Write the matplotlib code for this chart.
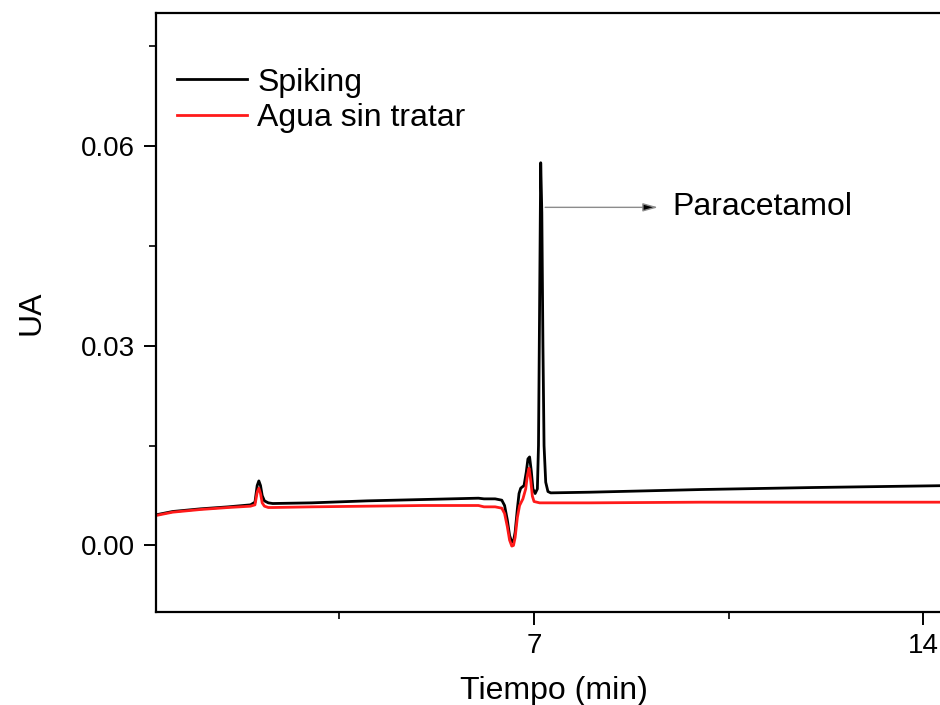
import matplotlib
matplotlib.use("Agg")
import matplotlib.pyplot as plt
from matplotlib.ticker import FixedLocator

plt.rcParams['font.family'] = ['Liberation Sans', 'DejaVu Sans']

# Spiking (black) chromatogram
t_spiking = [0.2, 0.5, 1.0, 1.5, 1.9, 1.98, 2.02, 2.05, 2.08, 2.11, 2.15, 2.22, 2.3,
             3.0, 4.0, 5.0, 6.0, 6.1, 6.3, 6.42, 6.47, 6.52, 6.56, 6.6, 6.63, 6.66,
             6.7, 6.73, 6.76, 6.82, 6.86, 6.89, 6.92, 6.95, 6.98, 7.02, 7.06, 7.08,
             7.1, 7.12, 7.14, 7.16, 7.18, 7.21, 7.25, 7.3, 8.0, 10.0, 12.0, 14.5]
ua_spiking = [0.0046, 0.0051, 0.0055, 0.0058, 0.0061, 0.0065, 0.0090, 0.0097, 0.0090,
              0.0075, 0.0067, 0.0064, 0.0063, 0.0064, 0.0067, 0.0069, 0.0071, 0.0070,
              0.0070, 0.0068, 0.0060, 0.0038, 0.0015, 0.0005, 0.0006, 0.0020, 0.0055,
              0.0078, 0.0086, 0.0090, 0.0110, 0.0130, 0.0133, 0.0112, 0.0085, 0.0078,
              0.0085, 0.0150, 0.0360, 0.0575, 0.0500, 0.0300, 0.0150, 0.0095, 0.0081,
              0.0079, 0.0080, 0.0084, 0.0087, 0.0090]

# Agua sin tratar (red) chromatogram
t_agua = [0.2, 0.5, 1.0, 1.5, 1.9, 1.98, 2.02, 2.05, 2.08, 2.11, 2.15, 2.22, 2.3,
          3.0, 4.0, 5.0, 6.0, 6.1, 6.3, 6.42, 6.47, 6.52, 6.56, 6.6, 6.63, 6.66,
          6.7, 6.74, 6.8, 6.85, 6.88, 6.91, 6.94, 6.97, 7.0, 7.1, 8.0, 10.0, 12.0, 14.5]
ua_agua = [0.0045, 0.0050, 0.0054, 0.0057, 0.0059, 0.0061, 0.0080, 0.0086, 0.0078,
           0.0064, 0.0059, 0.0057, 0.0057, 0.0058, 0.0059, 0.0060, 0.0060, 0.0058,
           0.0058, 0.0056, 0.0048, 0.0028, 0.0008, -0.0001, 0.0000, 0.0012, 0.0042,
           0.0060, 0.0070, 0.0085, 0.0105, 0.0116, 0.0098, 0.0074, 0.0066, 0.0064,
           0.0064, 0.0065, 0.0065, 0.0065]

series_labels = ["Spiking", "Agua sin tratar"]
x_major = [7, 14]
x_minor = [3.5, 10.5]
y_major = [0.00, 0.03, 0.06]
y_minor = [0.015, 0.045, 0.075]
y_labels = ["0.00", "0.03", "0.06"]

fig = plt.figure(figsize=(9.4, 7.05), dpi=100)
ax = fig.add_axes([156/940, 93/705, 795/940, 599/705])

ax.plot(t_spiking, ua_spiking, color='black', lw=2.0, label=series_labels[0],
        solid_joinstyle='round')
ax.plot(t_agua, ua_agua, color='#ff1a1a', lw=2.0, label=series_labels[1],
        solid_joinstyle='round')

ax.set_xlim(0.2, 14.5)
ax.set_ylim(-0.01, 0.08)

ax.xaxis.set_major_locator(FixedLocator(x_major))
ax.set_xticklabels([str(v) for v in x_major])
ax.xaxis.set_minor_locator(FixedLocator(x_minor))
ax.yaxis.set_major_locator(FixedLocator(y_major))
ax.set_yticklabels(y_labels)
ax.yaxis.set_minor_locator(FixedLocator(y_minor))

ax.tick_params(which='major', direction='out', length=9, width=1.4, labelsize=20, pad=6)
ax.tick_params(which='minor', direction='out', length=5, width=1.2)
ax.tick_params(top=False, right=False)
for s in ax.spines.values():
    s.set_linewidth(1.6)

ax.set_xlabel("Tiempo (min)", fontsize=23, labelpad=12)
ax.set_ylabel("UA", fontsize=23, labelpad=25)

leg = ax.legend(loc='upper left', bbox_to_anchor=(0.026, 0.909), frameon=False,
                fontsize=23, handlelength=2.2, handletextpad=0.33, labelspacing=0.18,
                borderaxespad=0, borderpad=0)

ax.annotate("", xy=(9.23, 0.0508), xytext=(7.2, 0.0508),
            arrowprops=dict(arrowstyle='-|>,head_length=0.9,head_width=0.25',
                            ec='0.55', fc='black', lw=1.0, shrinkA=0, shrinkB=0))
ax.text(9.48, 0.0508, "Paracetamol", fontsize=23, va='center', ha='left')

fig.savefig("out.png", dpi=100)
